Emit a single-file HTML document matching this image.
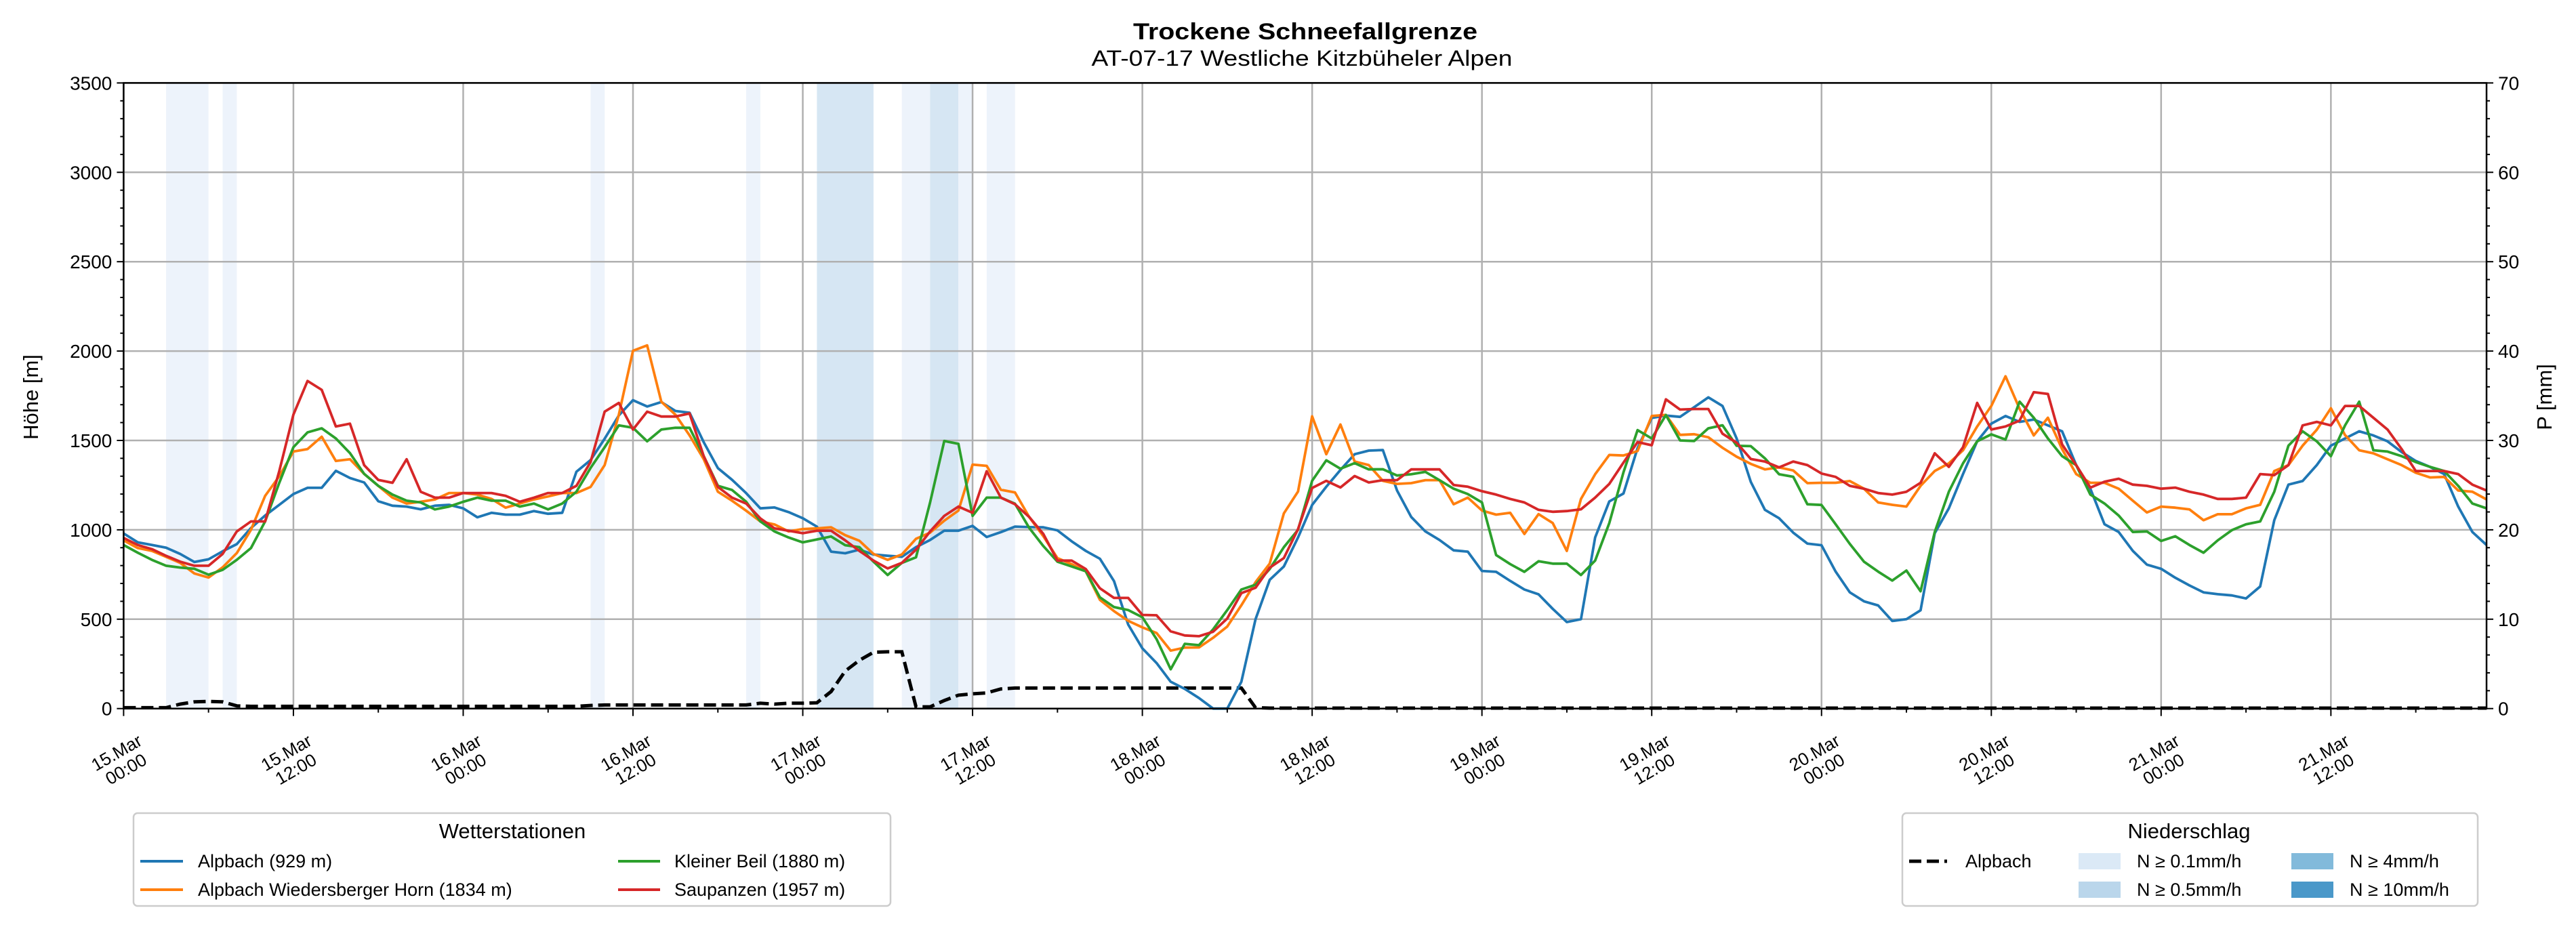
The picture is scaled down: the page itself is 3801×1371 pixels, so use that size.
<!DOCTYPE html>
<html><head><meta charset="utf-8"><style>
html,body{margin:0;padding:0;background:#fff;}
svg{display:block;font-family:"Liberation Sans",sans-serif;}
</style></head><body>
<svg id="chart" xmlns="http://www.w3.org/2000/svg" width="3801" height="1371" viewBox="0 0 3801 1371">
<rect x="0" y="0" width="3801" height="1371" fill="#fff"/>
<text x="1926" y="58" text-anchor="middle" font-size="34" font-weight="bold" textLength="508" lengthAdjust="spacingAndGlyphs">Trockene Schneefallgrenze</text>
<text x="1921" y="97" text-anchor="middle" font-size="32" textLength="621" lengthAdjust="spacingAndGlyphs">AT-07-17 Westliche Kitzbüheler Alpen</text>
<g id="bands"></g><g id="grid"></g><g id="series"></g><g id="axes"></g>
<text transform="translate(56,586) rotate(-90)" text-anchor="middle" font-size="31">Höhe [m]</text>
<text transform="translate(3765,586) rotate(-90)" text-anchor="middle" font-size="31">P [mm]</text>

<g>
<rect x="197" y="1200" width="1117" height="137" rx="6" fill="#fff" stroke="#cccccc" stroke-width="2.5"/>
<text x="756" y="1237" text-anchor="middle" font-size="31">Wetterstationen</text>
<g><line x1="207" y1="1271" x2="270" y2="1271" stroke="#1f77b4" stroke-width="4"/><text x="292" y="1280" font-size="27">Alpbach (929 m)</text></g>
<g><line x1="207" y1="1313" x2="270" y2="1313" stroke="#ff7f0e" stroke-width="4"/><text x="292" y="1322" font-size="27">Alpbach Wiedersberger Horn (1834 m)</text></g>
<g><line x1="912" y1="1271" x2="974" y2="1271" stroke="#2ca02c" stroke-width="4"/><text x="995" y="1280" font-size="27">Kleiner Beil (1880 m)</text></g>
<g><line x1="912" y1="1313" x2="974" y2="1313" stroke="#d62728" stroke-width="4"/><text x="995" y="1322" font-size="27">Saupanzen (1957 m)</text></g>
</g>
<g>
<rect x="2807" y="1200" width="849" height="137" rx="6" fill="#fff" stroke="#cccccc" stroke-width="2.5"/>
<text x="3230" y="1237" text-anchor="middle" font-size="31">Niederschlag</text>
<g><line x1="2817" y1="1271" x2="2873" y2="1271" stroke="#000" stroke-width="5" stroke-dasharray="18 8"/><text x="2900" y="1280" font-size="27">Alpbach</text></g>
<g><rect x="3067" y="1259" width="62" height="24" fill="#dbe9f6"/><text x="3153" y="1280" font-size="27">N ≥ 0.1mm/h</text></g>
<g><rect x="3067" y="1301" width="62" height="24" fill="#bad6eb"/><text x="3153" y="1322" font-size="27">N ≥ 0.5mm/h</text></g>
<g><rect x="3381" y="1259" width="62" height="24" fill="#82badb"/><text x="3467" y="1280" font-size="27">N ≥ 4mm/h</text></g>
<g><rect x="3381" y="1301" width="62" height="24" fill="#4a98c9"/><text x="3467" y="1322" font-size="27">N ≥ 10mm/h</text></g>
</g>
</svg>
<script>
// ---- data ----
const hoursCount = 168;
const xTickHours = [0,12,24,36,48,60,72,84,96,108,120,132,144,156];
const xTickDays = ["15.Mar","15.Mar","16.Mar","16.Mar","17.Mar","17.Mar","18.Mar","18.Mar","19.Mar","19.Mar","20.Mar","20.Mar","21.Mar","21.Mar"];
const xTickTimes = ["00:00","12:00","00:00","12:00","00:00","12:00","00:00","12:00","00:00","12:00","00:00","12:00","00:00","12:00"];
const yTicks = [0,500,1000,1500,2000,2500,3000,3500];
const y2Ticks = [0,10,20,30,40,50,60,70];
const alpbach = [980,930,915,900,865,820,835,880,920,1010,1080,1140,1200,1235,1235,1330,1290,1265,1160,1135,1130,1115,1135,1140,1120,1070,1095,1085,1085,1105,1090,1095,1325,1390,1510,1640,1725,1690,1715,1665,1655,1490,1345,1280,1205,1120,1125,1099,1065,1018,878,869,889,862,855,849,903,943,995,995,1022,960,987,1018,1015,1014,997,936,882,838,713,470,337,255,150,110,59,0,0,150,500,720,795,957,1139,1241,1335,1423,1443,1446,1220,1072,991,943,885,878,770,765,714,666,639,558,484,500,957,1159,1203,1457,1626,1639,1632,1686,1741,1693,1511,1268,1112,1065,984,923,914,766,650,600,577,490,500,550,981,1120,1312,1495,1594,1637,1604,1617,1584,1551,1362,1230,1031,988,882,805,782,732,689,650,640,633,616,683,1054,1253,1273,1362,1471,1511,1551,1528,1495,1435,1385,1352,1312,1130,988,915];
const wiedersberg = [941,898,882,849,815,756,733,790,870,1000,1190,1300,1438,1452,1521,1385,1395,1313,1246,1180,1147,1157,1170,1206,1206,1197,1173,1124,1147,1170,1187,1206,1206,1240,1362,1644,2002,2032,1717,1644,1528,1395,1213,1163,1107,1047,1030,991,1004,1008,1014,970,939,865,832,862,950,984,1051,1108,1365,1358,1224,1209,1072,964,842,808,768,608,545,491,454,423,324,341,342,396,459,578,707,811,1092,1214,1635,1423,1589,1382,1362,1274,1257,1261,1278,1278,1143,1180,1108,1085,1095,977,1088,1038,882,1173,1311,1419,1416,1441,1637,1643,1531,1535,1518,1459,1409,1369,1338,1349,1332,1261,1263,1263,1273,1230,1153,1140,1130,1246,1329,1372,1445,1578,1693,1859,1677,1528,1627,1452,1312,1263,1263,1230,1163,1097,1130,1124,1114,1054,1087,1087,1120,1140,1329,1362,1471,1560,1680,1530,1445,1428,1395,1362,1319,1293,1296,1220,1213,1170];
const kleinerBeil = [915,872,832,799,789,782,749,776,832,898,1047,1263,1462,1545,1568,1511,1429,1313,1246,1197,1163,1153,1114,1130,1157,1180,1163,1163,1130,1147,1114,1147,1213,1346,1462,1584,1571,1495,1561,1571,1571,1412,1246,1223,1157,1047,991,957,930,946,963,914,903,822,747,815,846,1153,1497,1481,1078,1180,1180,1146,1011,909,822,795,768,622,568,551,511,389,220,362,355,443,551,666,693,781,903,1000,1274,1389,1342,1373,1338,1339,1304,1311,1324,1278,1230,1200,1153,859,808,765,824,811,811,747,828,1038,1322,1558,1511,1642,1500,1497,1568,1585,1470,1468,1400,1311,1297,1143,1139,1031,921,822,766,716,772,656,988,1213,1372,1495,1534,1505,1717,1627,1511,1412,1362,1197,1147,1080,988,991,938,964,915,872,941,998,1031,1047,1213,1471,1551,1495,1412,1584,1717,1445,1438,1412,1379,1352,1329,1246,1147,1120];
const saupanzen = [955,915,892,855,822,799,799,865,991,1047,1047,1329,1644,1833,1783,1578,1594,1362,1279,1263,1395,1213,1180,1180,1206,1206,1206,1190,1157,1180,1206,1206,1246,1379,1661,1710,1561,1661,1634,1634,1651,1412,1240,1180,1147,1064,1008,995,981,995,995,941,882,828,784,815,889,991,1078,1130,1095,1328,1180,1143,1072,977,828,828,781,673,619,619,524,522,432,409,405,430,504,646,676,788,842,1004,1234,1274,1237,1301,1265,1278,1278,1338,1338,1338,1251,1241,1216,1197,1173,1153,1112,1101,1105,1115,1180,1257,1376,1491,1473,1730,1673,1676,1676,1538,1487,1396,1382,1349,1382,1362,1315,1296,1246,1230,1206,1197,1213,1263,1428,1352,1462,1710,1561,1578,1611,1770,1760,1478,1362,1236,1269,1286,1253,1246,1230,1236,1213,1197,1173,1173,1180,1312,1306,1362,1584,1604,1584,1693,1693,1627,1561,1452,1329,1329,1329,1312,1253,1220];
const precipMm = [0.1,0.1,0.1,0.1,0.5,0.75,0.8,0.75,0.3,0.25,0.25,0.25,0.25,0.25,0.25,0.25,0.25,0.25,0.25,0.25,0.25,0.25,0.25,0.25,0.25,0.25,0.25,0.25,0.25,0.25,0.25,0.25,0.25,0.35,0.4,0.4,0.4,0.4,0.4,0.4,0.4,0.4,0.4,0.4,0.4,0.6,0.5,0.6,0.6,0.65,1.9,4.2,5.4,6.3,6.35,6.35,0.2,0.2,0.9,1.5,1.65,1.75,2.2,2.3,2.3,2.3,2.3,2.3,2.3,2.3,2.3,2.3,2.3,2.3,2.3,2.3,2.3,2.3,2.3,2.3,0.1,0.05,0.05,0.05,0.05,0.05,0.05,0.05,0.05,0.05,0.05,0.05,0.05,0.05,0.05,0.05,0.05,0.05,0.05,0.05,0.05,0.05,0.05,0.05,0.05,0.05,0.05,0.05,0.05,0.05,0.05,0.05,0.05,0.05,0.05,0.05,0.05,0.05,0.05,0.05,0.05,0.05,0.05,0.05,0.05,0.05,0.05,0.05,0.05,0.05,0.05,0.05,0.05,0.05,0.05,0.05,0.05,0.05,0.05,0.05,0.05,0.05,0.05,0.05,0.05,0.05,0.05,0.05,0.05,0.05,0.05,0.05,0.05,0.05,0.05,0.05,0.05,0.05,0.05,0.05,0.05,0.05,0.05,0.05,0.05,0.05,0.05,0.05,0.05,0.05,0.05,0.05,0.05,0.05];
const bandStarts = [3,7,33,44,49,55,57,59,61];
const bandEnds = [6,8,34,45,53,57,59,60,63];
const bandLevels = [1,1,1,1,2,1,2,1,1];

// ---- axes ----
const L=182.4, R=3669, T=122.4, B=1045.7;
const xScale = h => L + (R-L)*h/167;
const yScale = v => B - (B-T)*v/3500;
const y2Scale = p => B - (B-T)*p/70;
const NS="http://www.w3.org/2000/svg";
function mk(tag, attrs, parent){const e=document.createElementNS(NS,tag);for(const k in attrs)e.setAttribute(k,attrs[k]);parent.appendChild(e);return e;}
const gB=document.getElementById('bands'), gG=document.getElementById('grid'), gS=document.getElementById('series'), gA=document.getElementById('axes');
const bandColors={1:'#edf3fb',2:'#d6e6f3'};
bandStarts.forEach((s,i)=>{
  const r=mk('rect',{x:xScale(s),y:T,width:xScale(bandEnds[i])-xScale(s),height:B-T,fill:bandColors[bandLevels[i]]},gB);
  
  
});
xTickHours.forEach(h=>{const l=mk('line',{x1:xScale(h),x2:xScale(h),y1:T,y2:B,stroke:'#b0b0b0','stroke-width':2.5},gG);
  
  });
yTicks.forEach(v=>{const l=mk('line',{x1:L,x2:R,y1:yScale(v),y2:yScale(v),stroke:'#b0b0b0','stroke-width':2.5},gG);
  
  });
// precip dashed
const pp=precipMm.slice(0,hoursCount).map((p,h)=>xScale(h).toFixed(1)+','+y2Scale(p).toFixed(1)).join(' ');
const pl=mk('polyline',{points:pp,fill:'none',stroke:'#000','stroke-width':5,'stroke-dasharray':'18 8'},gS);


const seriesList=[[alpbach,'#1f77b4','alpbach-line'],[wiedersberg,'#ff7f0e','wiedersberger-horn-line'],[kleinerBeil,'#2ca02c','kleiner-beil-line'],[saupanzen,'#d62728','saupanzen-line']];
seriesList.forEach(([arr,col,name])=>{
  const pts=arr.map((v,h)=>xScale(h).toFixed(1)+','+yScale(v).toFixed(1)).join(' ');
  const p=mk('polyline',{points:pts,fill:'none',stroke:col,'stroke-width':3.8,'stroke-linejoin':'round'},gS);
  
  
});
// spines
const sp=mk('rect',{x:L,y:T,width:R-L,height:B-T,fill:'none',stroke:'#000','stroke-width':2.5},gA);


// y ticks
for(let v=0;v<=3500;v+=100){const major=v%500===0;const y=yScale(v);
  mk('line',{x1:L,x2:L-(major?10:5),y1:y,y2:y,stroke:'#000','stroke-width':2},gA);
  mk('line',{x1:R,x2:R+(major?10:5),y1:y,y2:y,stroke:'#000','stroke-width':2},gA);}
yTicks.forEach(v=>{const t=mk('text',{x:L-17,y:yScale(v)+10,'text-anchor':'end','font-size':28},gA);t.textContent=v;
  
  });
y2Ticks.forEach(p=>{const t=mk('text',{x:R+17,y:y2Scale(p)+10,'text-anchor':'start','font-size':28},gA);t.textContent=p;
  
  });
// x ticks
for(let h=0;h<=167;h+=6){const major=h%12===0;mk('line',{x1:xScale(h),x2:xScale(h),y1:B,y2:B+(major?11:6),stroke:'#000','stroke-width':2},gA);}
xTickHours.forEach((h,i)=>{
  const cx=xScale(h)-4, cy=1122;
  const t=mk('text',{'font-size':26,'text-anchor':'middle',transform:`translate(${cx},${cy}) rotate(-30)`},gA);
  
  
  const a=mk('tspan',{x:0,y:-4},t);a.textContent=xTickDays[i];
  const b=mk('tspan',{x:0,y:24},t);b.textContent=xTickTimes[i];
});
</script>
</body></html>
